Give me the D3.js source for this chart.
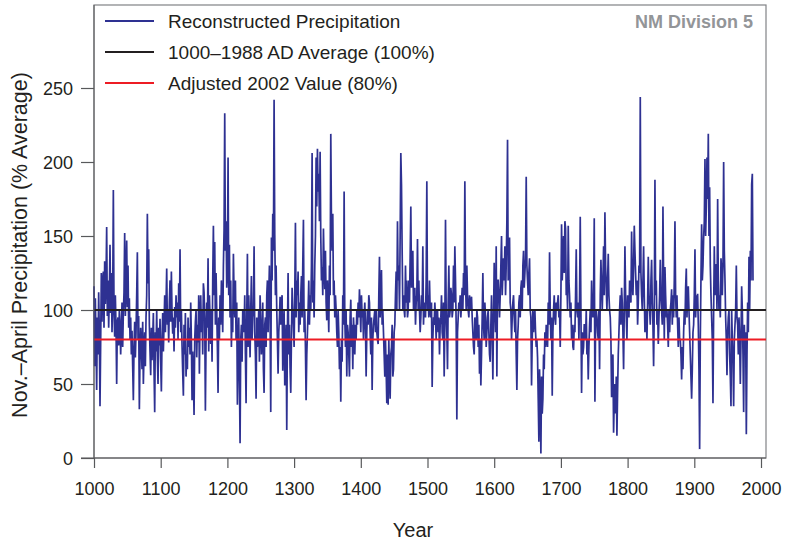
<!DOCTYPE html>
<html>
<head>
<meta charset="utf-8">
<script src="https://cdn.jsdelivr.net/npm/d3@7"></script>
<style>
  html, body { margin: 0; padding: 0; background: #fff; }
  svg { display: block; }
  text { font-family: "Liberation Sans", Arial, Helvetica, sans-serif; }
</style>
</head>
<body>
<svg id="chart" width="787" height="541"></svg>
<script>
// ---- Data ----
const startYear = 1000;
const endYear = 1988;
const averageValue = 100;   // 1000–1988 AD average
const adjusted2002 = 80;    // adjusted 2002 value
const yTicks = [0, 50, 100, 150, 200, 250];
const xTicks = [1000, 1100, 1200, 1300, 1400, 1500, 1600, 1700, 1800, 1900, 2000];
const legendLabels = ["Reconstructed Precipitation", "1000\u20131988 AD Average (100%)", "Adjusted 2002 Value (80%)"];
const chartTitle = "NM Division 5";

// annual reconstructed precipitation (% of average), 1000..1988
const precipitation = [
  116, 62, 108, 80, 46, 95, 70, 112, 85, 35,
  78, 125, 92, 118, 126, 88, 133, 104, 120, 156,
  96, 120, 88, 110, 144, 98, 125, 85, 105, 181,
  100, 82, 110, 89, 50, 92, 95, 76, 100, 90,
  70, 88, 105, 75, 98, 112, 152, 96, 118, 147,
  102, 130, 88, 108, 80, 95, 70, 86, 62, 39,
  75, 92, 68, 85, 110, 139, 80, 96, 33, 70,
  88, 75, 60, 92, 50, 70, 85, 62, 95, 110,
  165, 118, 141, 90, 72, 56, 88, 66, 80, 98,
  60, 31, 85, 72, 100, 68, 50, 88, 76, 94,
  65, 45, 80, 98, 72, 90, 110, 85, 104, 128,
  90, 100, 78, 105, 120, 92, 126, 98, 84, 95,
  72, 102, 88, 110, 95, 105, 80, 118, 92, 141,
  85, 100, 76, 58, 42, 90, 70, 98, 55, 70,
  60, 95, 75, 88, 70, 105, 80, 39, 72, 55,
  29, 80, 92, 100, 68, 90, 78, 110, 57, 95,
  110, 85, 100, 70, 118, 112, 95, 32, 80, 105,
  88, 135, 72, 110, 95, 77, 100, 65, 120, 157,
  110, 146, 90, 125, 100, 75, 44, 95, 80, 110,
  90, 120, 105, 85, 130, 154, 233, 140, 160, 115,
  125, 203, 110, 144, 95, 120, 75, 100, 85, 138,
  110, 95, 120, 80, 105, 36, 70, 95, 55, 10,
  80, 90, 65, 100, 100, 85, 110, 70, 37, 95,
  138, 75, 110, 90, 68, 100, 123, 80, 95, 100,
  143, 85, 70, 40, 95, 75, 85, 100, 65, 110,
  93, 70, 80, 105, 60, 44, 90, 95, 75, 110,
  120, 85, 110, 130, 95, 31, 149, 120, 165, 140,
  242, 151, 110, 130, 100, 80, 57, 85, 95, 109,
  90, 105, 110, 59, 85, 100, 49, 75, 90, 19,
  85, 125, 70, 90, 60, 44, 80, 115, 100, 90,
  75, 110, 159, 95, 120, 110, 126, 85, 105, 90,
  110, 123, 95, 130, 161, 85, 100, 75, 39, 70,
  85, 100, 120, 90, 110, 100, 130, 206, 105, 120,
  95, 130, 150, 203, 170, 209, 180, 192, 160, 207,
  150, 120, 129, 110, 155, 130, 114, 140, 105, 93,
  120, 105, 85, 130, 110, 219, 160, 140, 165, 110,
  120, 95, 110, 100, 85, 75, 100, 85, 60, 75,
  38, 80, 65, 110, 90, 180, 95, 75, 100, 55,
  90, 85, 70, 55, 95, 107, 75, 90, 60, 95,
  85, 70, 90, 80, 100, 90, 105, 95, 114, 100,
  85, 110, 95, 100, 80, 95, 105, 90, 55, 85,
  100, 90, 110, 105, 85, 70, 95, 46, 80, 90,
  95, 100, 85, 100, 85, 80, 77, 110, 136, 95,
  110, 127, 90, 100, 85, 70, 55, 80, 60, 37,
  70, 36, 80, 55, 40, 70, 75, 90, 55, 60,
  85, 90, 110, 126, 100, 160, 120, 130, 100, 150,
  206, 185, 140, 100, 110, 100, 95, 130, 105, 120,
  95, 100, 120, 105, 136, 170, 115, 125, 140, 100,
  100, 115, 90, 105, 110, 148, 100, 120, 100, 85,
  95, 110, 100, 143, 90, 105, 100, 95, 120, 187,
  100, 110, 95, 120, 100, 95, 105, 48, 80, 95,
  90, 105, 95, 80, 100, 100, 85, 95, 70, 90,
  95, 110, 85, 80, 105, 55, 90, 161, 100, 85,
  60, 105, 130, 95, 100, 115, 110, 95, 100, 130,
  105, 143, 120, 90, 26, 85, 95, 105, 100, 110,
  95, 105, 115, 100, 125, 110, 187, 120, 100, 130,
  110, 100, 95, 110, 100, 105, 109, 95, 85, 75,
  70, 95, 85, 80, 100, 95, 75, 90, 57, 80,
  49, 70, 95, 125, 90, 80, 105, 95, 75, 85,
  95, 100, 85, 70, 65, 90, 110, 85, 53, 95,
  132, 100, 85, 143, 55, 120, 120, 110, 95, 110,
  130, 150, 110, 125, 135, 120, 143, 110, 130, 160,
  215, 120, 140, 149, 105, 100, 80, 95, 105, 110,
  95, 85, 100, 70, 46, 80, 90, 105, 110, 95,
  115, 120, 100, 130, 140, 115, 125, 135, 190, 130,
  120, 110, 125, 135, 100, 95, 49, 80, 100, 85,
  95, 100, 85, 75, 80, 68, 40, 11, 60, 40,
  3, 55, 30, 40, 70, 60, 85, 75, 90, 80,
  75, 105, 90, 139, 100, 80, 95, 42, 85, 100,
  110, 95, 90, 105, 100, 105, 110, 95, 100, 75,
  110, 158, 120, 135, 150, 125, 160, 155, 110, 120,
  100, 157, 120, 110, 95, 105, 80, 90, 75, 73,
  90, 85, 110, 141, 100, 95, 105, 80, 110, 163,
  100, 44, 85, 70, 75, 90, 90, 80, 100, 70,
  80, 53, 75, 90, 100, 85, 120, 100, 95, 110,
  162, 38, 90, 100, 95, 85, 80, 100, 60, 110,
  134, 115, 100, 120, 143, 110, 166, 130, 115, 100,
  120, 138, 110, 100, 95, 80, 41, 60, 70, 17,
  40, 50, 30, 55, 15, 45, 70, 85, 100, 110,
  90, 115, 105, 85, 60, 100, 143, 110, 95, 80,
  110, 100, 95, 120, 115, 105, 153, 120, 110, 130,
  157, 140, 125, 110, 120, 90, 105, 130, 125, 244,
  125, 110, 100, 120, 143, 110, 85, 100, 95, 80,
  105, 136, 110, 100, 90, 120, 134, 105, 90, 62,
  100, 188, 110, 120, 90, 100, 77, 95, 110, 134,
  110, 100, 90, 170, 120, 80, 129, 110, 95, 100,
  90, 75, 100, 85, 100, 105, 114, 90, 110, 95,
  120, 160, 110, 95, 110, 90, 75, 95, 80, 80,
  70, 53, 75, 60, 85, 100, 90, 115, 128, 95,
  110, 116, 100, 85, 70, 55, 40, 60, 85, 90,
  110, 141, 95, 110, 100, 111, 90, 60, 6, 80,
  122, 158, 120, 130, 149, 160, 202, 150, 170, 203,
  175, 219, 150, 183, 130, 110, 95, 80, 37, 100,
  143, 110, 120, 131, 100, 175, 120, 100, 110, 95,
  135, 127, 110, 130, 200, 140, 120, 95, 80, 56,
  85, 95, 100, 70, 55, 35, 100, 80, 65, 35,
  80, 90, 100, 130, 95, 90, 70, 95, 80, 50,
  80, 116, 100, 70, 31, 90, 70, 85, 16, 70,
  105, 85, 136, 100, 140, 120, 185, 192, 120
];
const years = precipitation.map((_, i) => startYear + i);

// ---- Layout ----
const svg = d3.select("#chart");
const pLeft = 94, pRight = 766, pTop = 5, pBottom = 458;

const x = d3.scaleLinear().domain([1000, 2000]).range([pLeft, 761]);
const y = d3.scaleLinear().domain([0, 250]).range([pBottom, 88]);

const axisColor = "#58595b";

// Frame
svg.append("rect")
  .attr("x", pLeft).attr("y", pTop)
  .attr("width", pRight - pLeft).attr("height", pBottom - pTop)
  .attr("fill", "none").attr("stroke", "#808285").attr("stroke-width", 1.2);

// Series line
const line = d3.line()
  .x((d, i) => x(years[i]))
  .y(d => y(d));

svg.append("path")
  .datum(precipitation)
  .attr("d", line)
  .attr("fill", "none")
  .attr("stroke", "#2e3192")
  .attr("stroke-width", 1.7)
  .attr("stroke-linejoin", "miter");

// Reference lines
svg.append("line")
  .attr("x1", pLeft).attr("x2", pRight)
  .attr("y1", y(averageValue)).attr("y2", y(averageValue))
  .attr("stroke", "#231f20").attr("stroke-width", 2);
svg.append("line")
  .attr("x1", pLeft).attr("x2", pRight)
  .attr("y1", y(adjusted2002)).attr("y2", y(adjusted2002))
  .attr("stroke", "#ed1c24").attr("stroke-width", 2);

// Y axis
const yAxis = svg.append("g")
  .attr("transform", `translate(${pLeft},0)`)
  .call(d3.axisLeft(y).tickValues(yTicks).tickSize(13).tickPadding(8).tickFormat(d3.format("d")));
yAxis.select(".domain").attr("stroke", axisColor).attr("d", `M0,${pBottom}V${pTop}`);
yAxis.selectAll(".tick line").attr("stroke", axisColor).attr("stroke-width", 1.2);
yAxis.selectAll(".tick text")
  .attr("fill", "#231f20")
  .style("font-size", "18px")
  .attr("dy", "0.34em");

// X axis
const xAxis = svg.append("g")
  .attr("transform", `translate(0,${pBottom})`)
  .call(d3.axisBottom(x).tickValues(xTicks).tickSize(10).tickPadding(14).tickFormat(d3.format("d")));
xAxis.select(".domain").attr("stroke", axisColor).attr("d", `M${pLeft - 13},0H${pRight}`);
xAxis.selectAll(".tick line").attr("stroke", axisColor).attr("stroke-width", 1.2);
xAxis.selectAll(".tick text")
  .attr("fill", "#231f20")
  .style("font-size", "18px");

// Axis titles
svg.append("text")
  .attr("x", (pLeft + pRight) / 2 - 17).attr("y", 537)
  .attr("text-anchor", "middle")
  .attr("fill", "#231f20")
  .style("font-size", "20px")
  .text("Year");

svg.append("text")
  .attr("transform", `translate(27,245) rotate(-90)`)
  .attr("text-anchor", "middle")
  .attr("fill", "#231f20")
  .style("font-size", "21.5px")
  .text("Nov.\u2013April Precipitation (% Average)");

// Legend
const legendColors = ["#2e3192", "#231f20", "#ed1c24"];
const legendY = [21, 52, 83];
legendLabels.forEach((lab, i) => {
  svg.append("line")
    .attr("x1", 105).attr("x2", 154)
    .attr("y1", legendY[i]).attr("y2", legendY[i])
    .attr("stroke", legendColors[i]).attr("stroke-width", 2);
  svg.append("text")
    .attr("x", 168).attr("y", legendY[i])
    .attr("dy", "0.35em")
    .attr("fill", "#231f20")
    .style("font-size", "19px")
    .text(lab);
});

// Title
svg.append("text")
  .attr("x", 753).attr("y", 28)
  .attr("text-anchor", "end")
  .attr("fill", "#939598")
  .style("font-size", "18px")
  .style("font-weight", "bold")
  .text(chartTitle);
</script>
</body>
</html>
